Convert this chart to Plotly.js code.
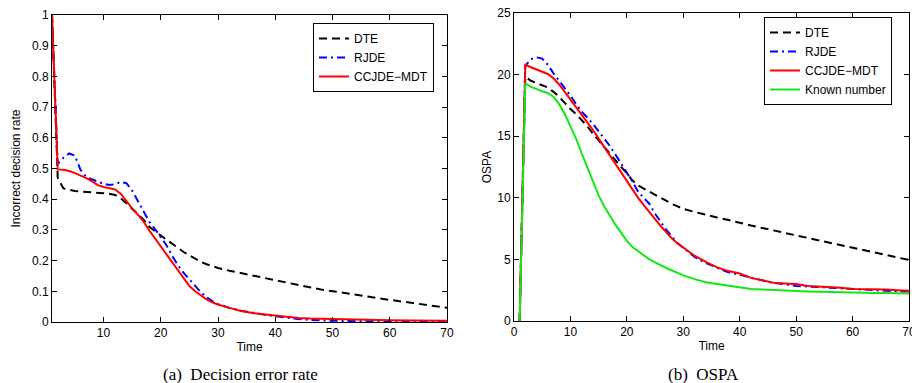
<!DOCTYPE html>
<html>
<head>
<meta charset="utf-8">
<script src="https://cdn.plot.ly/plotly-3.0.1.min.js"></script>
<style>html,body{margin:0;padding:0;background:#fff;}#chart{width:912px;height:383px;}</style>
</head>
<body>
<div id="chart"></div>
<script>
// ---- Panel (a): Decision error rate ----
var timeA = [1,2,3,4,5,6,7,8,9,10,11,12,13,14,15,16,17,18,19,20,21,22,23,24,25,26,27,28,29,30,32,34,36,38,40,42,44,46,48,50,53,56,60,64,67,70];
var dteA = [1.0,0.47,0.435,0.430,0.427,0.425,0.424,0.423,0.421,0.420,0.418,0.414,0.403,0.387,0.370,0.352,0.333,0.31,0.297,0.282,0.268,0.255,0.240,0.228,0.217,0.206,0.196,0.188,0.181,0.176,0.167,0.159,0.151,0.143,0.136,0.128,0.121,0.113,0.106,0.100,0.092,0.083,0.072,0.062,0.053,0.046];
var rjdeA = [1.0,0.515,0.535,0.549,0.542,0.495,0.472,0.465,0.458,0.450,0.446,0.449,0.456,0.452,0.428,0.395,0.36,0.326,0.303,0.276,0.25,0.215,0.185,0.160,0.138,0.117,0.097,0.081,0.068,0.058,0.046,0.037,0.030,0.024,0.019,0.014,0.010,0.007,0.005,0.004,0.003,0.002,0.002,0.001,0.001,0.001];
var ccjdeA = [1.0,0.497,0.496,0.492,0.485,0.478,0.469,0.458,0.446,0.440,0.437,0.432,0.418,0.394,0.370,0.350,0.327,0.298,0.272,0.245,0.22,0.193,0.166,0.140,0.117,0.100,0.086,0.074,0.064,0.057,0.046,0.036,0.029,0.025,0.021,0.016,0.013,0.011,0.010,0.009,0.008,0.007,0.006,0.005,0.004,0.004];

// ---- Panel (b): OSPA ----
var timeB = [1,2,3,4,5,6,7,8,9,10,11,12,13,14,15,16,17,18,19,20,21,22,23,24,25,26,27,28,29,30,32,34,36,38,40,42,44,46,48,50,52,54,56,58,60,62,64,66,68,70];
var dteB = [0,19.8,19.5,19.3,19.1,18.95,18.6,18.2,17.7,17.2,16.8,16.3,15.8,15.2,14.65,14.1,13.55,13.0,12.5,12.0,11.4,11.0,10.75,10.5,10.2,9.95,9.75,9.5,9.3,9.1,8.85,8.6,8.4,8.2,7.95,7.75,7.55,7.35,7.15,7.0,6.8,6.6,6.4,6.2,5.95,5.75,5.55,5.35,5.15,4.95];
var rjdeB = [0,20.7,21.25,21.4,21.3,20.8,20.1,19.5,18.9,18.3,17.6,17.0,16.5,16.0,15.4,14.8,14.2,13.5,12.8,12.0,11.3,10.5,10.0,9.5,8.7,8.0,7.4,6.85,6.3,5.95,5.2,4.7,4.3,3.95,3.75,3.5,3.3,3.1,2.95,2.85,2.8,2.75,2.7,2.6,2.55,2.5,2.45,2.45,2.4,2.4];
var ccjdeB = [0,20.8,20.6,20.4,20.25,20.05,19.7,19.2,18.6,18.0,17.4,16.8,16.2,15.5,14.8,14.1,13.4,12.8,12.1,11.4,10.7,10.0,9.4,8.8,8.2,7.7,7.2,6.7,6.3,5.95,5.3,4.8,4.35,4.05,3.85,3.5,3.3,3.1,3.05,3.0,2.85,2.8,2.8,2.7,2.6,2.6,2.55,2.55,2.5,2.45];
var knownB = [0,19.3,19.0,18.8,18.65,18.5,18.2,17.6,16.8,15.8,14.8,13.6,12.5,11.3,10.2,9.3,8.5,7.8,7.15,6.5,6.0,5.65,5.3,5.0,4.75,4.5,4.3,4.1,3.9,3.7,3.4,3.15,3.0,2.85,2.7,2.6,2.55,2.5,2.45,2.42,2.4,2.38,2.35,2.33,2.32,2.3,2.28,2.27,2.25,2.24];

var names = ['DTE','RJDE','CCJDE\u2212MDT','Known number'];
var xTicksA = [10,20,30,40,50,60,70];
var xTicksB = [0,10,20,30,40,50,60,70];
var captionA = '(a)\u00a0 Decision error rate';
var captionB = '(b)\u00a0 OSPA';

var W = 912, H = 383;
var dashDTE = '8px,5px';
var dashRJDE = '8px,4px,2px,4px';
var green = 'rgb(20,232,20)';

var traces = [
  {x: timeA, y: dteA, name: names[0], mode: 'lines', line: {color: 'black', width: 2, dash: dashDTE}, xaxis: 'x', yaxis: 'y', legend: 'legend'},
  {x: timeA, y: rjdeA, name: names[1], mode: 'lines', line: {color: 'blue', width: 2, dash: dashRJDE}, xaxis: 'x', yaxis: 'y', legend: 'legend'},
  {x: timeA, y: ccjdeA, name: names[2], mode: 'lines', line: {color: 'red', width: 2}, xaxis: 'x', yaxis: 'y', legend: 'legend'},
  {x: timeB, y: dteB, name: names[0], mode: 'lines', line: {color: 'black', width: 2, dash: dashDTE}, xaxis: 'x2', yaxis: 'y2', legend: 'legend2'},
  {x: timeB, y: rjdeB, name: names[1], mode: 'lines', line: {color: 'blue', width: 2, dash: dashRJDE}, xaxis: 'x2', yaxis: 'y2', legend: 'legend2'},
  {x: timeB, y: ccjdeB, name: names[2], mode: 'lines', line: {color: 'red', width: 2}, xaxis: 'x2', yaxis: 'y2', legend: 'legend2'},
  {x: timeB, y: knownB, name: names[3], mode: 'lines', line: {color: green, width: 2}, xaxis: 'x2', yaxis: 'y2', legend: 'legend2'}
];

var axisCommon = {
  showline: true, linecolor: 'black', linewidth: 1, mirror: 'ticks',
  ticks: 'inside', ticklen: 5, tickcolor: 'black', tickwidth: 1,
  showgrid: false, zeroline: false, fixedrange: true, ticklabeloverflow: 'allow',
  tickfont: {family: 'Liberation Sans, Arial, sans-serif', size: 12, color: 'black'}
};
function ax(extra) { return Object.assign({}, axisCommon, extra); }
var titleFont = {family: 'Liberation Sans, Arial, sans-serif', size: 12, color: 'black'};

var layout = {
  width: W, height: H,
  margin: {l: 0, r: 0, t: 0, b: 0},
  paper_bgcolor: 'white', plot_bgcolor: 'white',
  font: {family: 'Liberation Sans, Arial, sans-serif', size: 12, color: 'black'},
  showlegend: true,
  xaxis: ax({domain: [52/W, 447/W], range: [1, 70], tickvals: xTicksA, anchor: 'y',
    title: {text: 'Time', font: titleFont, standoff: 3}}),
  yaxis: ax({domain: [1 - 322/H, 1 - 15/H], range: [0, 1], dtick: 0.1, anchor: 'x',
    title: {text: 'Incorrect decision rate', font: titleFont, standoff: 8}}),
  xaxis2: ax({domain: [514/W, 909/W], range: [0, 70], tickvals: xTicksB, anchor: 'y2',
    title: {text: 'Time', font: titleFont, standoff: 3}}),
  yaxis2: ax({domain: [1 - 321/H, 1 - 13/H], range: [0, 25], dtick: 5, anchor: 'x2',
    title: {text: 'OSPA', font: titleFont, standoff: 3}}),
  legend: {x: 313/W, y: 1 - 23/H, xanchor: 'left', yanchor: 'top', bgcolor: 'white',
    bordercolor: 'black', borderwidth: 1, font: {size: 12, color: 'black'}, tracegroupgap: 0},
  legend2: {x: 764/W, y: 1 - 17/H, xanchor: 'left', yanchor: 'top', bgcolor: 'white',
    bordercolor: 'black', borderwidth: 1, font: {size: 12, color: 'black'}, tracegroupgap: 0},
  annotations: [
    {text: captionA, xref: 'paper', yref: 'paper', x: 240/W, y: 1 - 374/H, xanchor: 'center', yanchor: 'middle',
      showarrow: false, font: {family: 'Liberation Serif, Times New Roman, serif', size: 17, color: 'black'}},
    {text: captionB, xref: 'paper', yref: 'paper', x: 703/W, y: 1 - 374/H, xanchor: 'center', yanchor: 'middle',
      showarrow: false, font: {family: 'Liberation Serif, Times New Roman, serif', size: 17, color: 'black'}}
  ]
};

Plotly.newPlot('chart', traces, layout, {staticPlot: true, displayModeBar: false});
</script>
</body>
</html>
